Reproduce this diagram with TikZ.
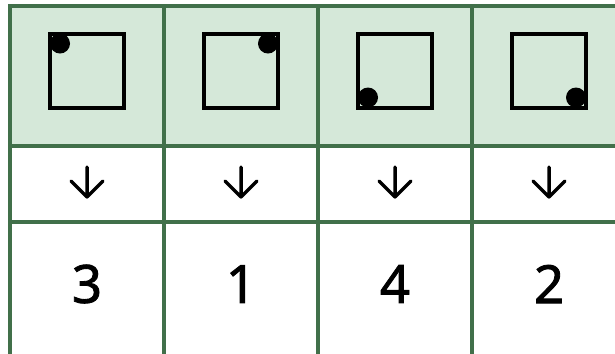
\documentclass[tikz,border=0pt]{standalone}
\usepackage{fontspec}
\setmainfont{Noto Sans}
\newfontfamily\numfont[FakeBold=1.6]{Noto Sans}
\usetikzlibrary{positioning}
\definecolor{cellgreen}{HTML}{D5E8D9}
\definecolor{gridgreen}{HTML}{41704A}

\begin{document}
\begin{tikzpicture}[x=0.02cm, y=-0.02cm,
		gridline/.style={draw=gridgreen, line width=0.07cm},
		frame/.style={draw=black, line width=0.08cm, minimum size=1.48cm, inner sep=0pt},
		dot/.style={circle, fill=black, minimum size=0.4cm, inner sep=0pt},
		tick/.style={line width=0.07cm, line cap=round, line join=round},
		num/.style={font=\numfont\fontsize{30}{30}\selectfont}]
	\clip (0, 0) rectangle (615, 353);

	% Riga delle posizioni (sfondo verde)
	\fill[cellgreen] (10, 6) rectangle (630, 146);

	% Griglia della tabella
	\draw[gridline] (10, 360) -- (10, 6) -- (630, 6);
	\draw[gridline] (10, 146) -- (630, 146);
	\draw[gridline] (10, 222) -- (630, 222);
	\draw[gridline] (164, 6) -- (164, 360);
	\draw[gridline] (318, 6) -- (318, 360);
	\draw[gridline] (472, 6) -- (472, 360);

	% Quadrati con il punto nell'angolo
	\node[frame] (q1) at (87, 70.5) {};
	\node[frame] (q2) at (241, 70.5) {};
	\node[frame] (q3) at (395, 70.5) {};
	\node[frame] (q4) at (549, 70.5) {};
	\node[dot] (p1) at ([xshift=0.24cm, yshift=-0.24cm]q1.north west) {};
	\node[dot] (p2) at ([xshift=-0.24cm, yshift=-0.24cm]q2.north east) {};
	\node[dot] (p3) at ([xshift=0.24cm, yshift=0.24cm]q3.south west) {};
	\node[dot] (p4) at ([xshift=-0.24cm, yshift=0.24cm]q4.south east) {};

	% Frecce verso il basso
	\coordinate (a1) at (87, 167);  \coordinate (b1) at (87, 197);
	\coordinate (a2) at (241, 167); \coordinate (b2) at (241, 197);
	\coordinate (a3) at (395, 167); \coordinate (b3) at (395, 197);
	\coordinate (a4) at (549, 167); \coordinate (b4) at (549, 197);
	\draw[tick] (a1) -- (b1) ([xshift=-0.32cm, yshift=0.32cm]b1) -- (b1) -- ([xshift=0.32cm, yshift=0.32cm]b1);
	\draw[tick] (a2) -- (b2) ([xshift=-0.32cm, yshift=0.32cm]b2) -- (b2) -- ([xshift=0.32cm, yshift=0.32cm]b2);
	\draw[tick] (a3) -- (b3) ([xshift=-0.32cm, yshift=0.32cm]b3) -- (b3) -- ([xshift=0.32cm, yshift=0.32cm]b3);
	\draw[tick] (a4) -- (b4) ([xshift=-0.32cm, yshift=0.32cm]b4) -- (b4) -- ([xshift=0.32cm, yshift=0.32cm]b4);

	% Valori
	\node[num] (n1) at (87, 284) {3};
	\node[num] (n2) at (241, 284) {1};
	\node[num] (n3) at (395, 284) {4};
	\node[num] (n4) at (549, 284) {2};
\end{tikzpicture}
\end{document}
